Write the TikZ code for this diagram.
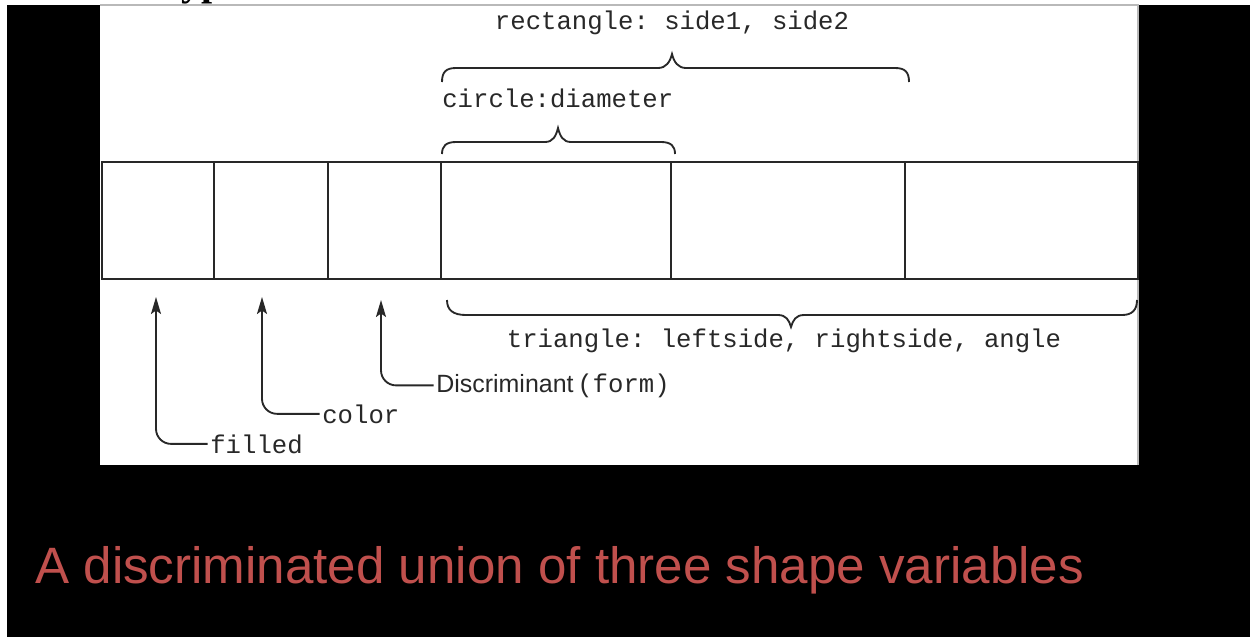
\documentclass[tikz,border=0pt]{standalone}
\usepackage{fontspec}
\setmainfont{Liberation Serif}
\newfontfamily\monof{Liberation Mono}
\newfontfamily\sansf{Liberation Sans}
\usetikzlibrary{arrows.meta}
\definecolor{capred}{RGB}{192,80,77}
\definecolor{ink}{RGB}{40,40,40}
\definecolor{edgegray}{RGB}{185,185,185}
\frenchspacing
\begin{document}
\begin{tikzpicture}[x=0.02cm,y=-0.02cm,
  cell/.style={draw=ink,line width=1.1pt,inner sep=0pt,minimum height=2.34cm,anchor=north west},
  mono/.style={font=\monof\fontsize{14.6pt}{16pt}\selectfont,text=ink,inner sep=0pt},
  lbl/.style={mono,inner xsep=0.05cm,anchor=base west},
  bracepath/.style={draw=ink,line width=1.05pt},
  pointer/.style={draw=ink,line width=1.05pt,rounded corners=0.3cm,-{Stealth[length=0.34cm,width=0.2cm,inset=0.07cm]}},
]
\useasboundingbox (0,0) rectangle (1250,637);
\fill[white] (0,0) rectangle (1250,637);
\fill[black] (7,5) rectangle (1250,637);
\fill[white] (100,5) rectangle (1138,465);
\draw[edgegray,line width=0.6pt] (100,5) -- (1138,5) -- (1138,465);
% heading fragment
\node[font=\bfseries\fontsize{22.7pt}{24pt}\selectfont,anchor=base west,inner sep=0pt] (head) at (181,-4.2) {ypes};
% record cells
\node[cell,minimum width=2.24cm] (c1) at (101,161) {};
\node[cell,minimum width=2.28cm] (c2) at (213,161) {};
\node[cell,minimum width=2.26cm] (c3) at (327,161) {};
\node[cell,minimum width=4.60cm] (c4) at (440,161) {};
\node[cell,minimum width=4.68cm] (c5) at (670,161) {};
\node[cell,minimum width=4.66cm] (c6) at (904,161) {};
% texts
\node[mono,anchor=base] (rect) at (672,29) {rectangle: side1, side2};
\node[mono,anchor=base west] (circ) at (442,107) {circle:diameter};
\node[mono,anchor=base] (tri) at (784,347) {triangle: leftside, rightside, angle};
\node[anchor=base west,inner sep=0pt,inner xsep=0.05cm,font=\sansf\fontsize{14.2pt}{15pt}\selectfont,text=ink] (disc) at (433.5,392) {Discriminant\hspace{0.15em}{\monof\fontsize{14.6pt}{16pt}\selectfont(form)}};
\node[lbl] (col) at (319.5,423) {color};
\node[lbl] (fil) at (207.5,453) {filled};
\node[anchor=base west,inner sep=0pt,font=\sansf\fontsize{29.1pt}{32pt}\selectfont,text=capred] (cap) at (35,583) {A discriminated union of three shape variables};
% braces
\draw[bracepath] (442,82) .. controls (442,72) and (446,68) .. (456,68) -- (658,68)
  .. controls (666,68) and (670,62) .. (672,54) .. controls (674,62) and (678,68) .. (686,68)
  -- (895,68) .. controls (905,68) and (909,72) .. (909,82);
\draw[bracepath] (442,154) .. controls (442,146) and (446,142) .. (456,142) -- (545,142)
  .. controls (553,142) and (556,136) .. (558,128) .. controls (560,136) and (563,142) .. (571,142)
  -- (661,142) .. controls (671,142) and (675,146) .. (675,154);
\draw[bracepath] (447,300) .. controls (447,310) and (453,315) .. (466,315) -- (778,315)
  .. controls (786,315) and (789,320) .. (791,327) .. controls (793,320) and (796,315) .. (804,315)
  -- (1122,315) .. controls (1132,315) and (1137,310) .. (1137,300);
% pointers
\coordinate (t1) at (156,297);
\coordinate (t2) at (262,297);
\coordinate (t3) at (381,300);
\draw[pointer] (fil.west) -| (t1);
\draw[pointer] (col.west) -| (t2);
\draw[pointer] (disc.west) -| (t3);
\end{tikzpicture}
\end{document}
